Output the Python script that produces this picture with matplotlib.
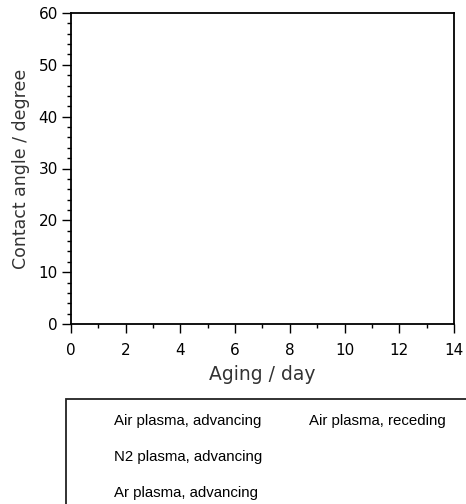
import numpy as np
import matplotlib
matplotlib.use("Agg")
from matplotlib import pyplot as plt
from matplotlib.patches import Rectangle

# series names (the chart shows no data points, only the legend entries)
labels_col1 = ["Air plasma, advancing", "N2 plasma, advancing", "Ar plasma, advancing"]
labels_col2 = ["Air plasma, receding", "", ""]

x_range = [0, 14]
y_range = [0, 60]
x_major = np.arange(0, 15, 2)
y_major = np.arange(0, 61, 10)

fig = plt.figure(figsize=(4.66, 5.04), dpi=100)
ax = fig.add_axes([71/466, 1 - 324/504, (454 - 71)/466, (324 - 13)/504])

handles = []
for lab in labels_col1 + labels_col2:
  h, = ax.plot([], [], linestyle="none", label=lab)
  handles.append(h)

ax.set_xlim(x_range)
ax.set_ylim(y_range)
ax.set_xticks(x_major)
ax.set_yticks(y_major)
ax.set_xticks(np.arange(0, 15, 1), minor=True)
ax.set_yticks(np.arange(0, 61, 2), minor=True)
ax.tick_params(which="major", direction="out", length=6.5, width=1, labelsize=11, pad=3)
ax.tick_params(which="minor", direction="out", length=3, width=1)
ax.tick_params(axis="x", which="major", pad=7.5)
for s in ax.spines.values():
  s.set_linewidth(1.3)
ax.set_xlabel("Aging / day", fontsize=13.5, color="#333333", labelpad=5)
ax.set_ylabel("Contact angle / degree", fontsize=12.5, color="#333333", labelpad=6)

# legend frame runs off the figure edge
fig.patches.append(Rectangle((66/466, -0.1), 0.9, 1 - 399/504 + 0.1,
                             transform=fig.transFigure, fill=False,
                             edgecolor="#222222", linewidth=1.3))
fig.legend(handles=handles, labels=labels_col1 + labels_col2, ncol=2,
           loc="upper left", bbox_to_anchor=(70/466, 1 - 401/504),
           frameon=False, handlelength=1.5, handletextpad=0.5,
           columnspacing=1.15, labelspacing=1.45,
           prop={"family": "Liberation Sans", "size": 10.8})

plt.savefig("out.png")
